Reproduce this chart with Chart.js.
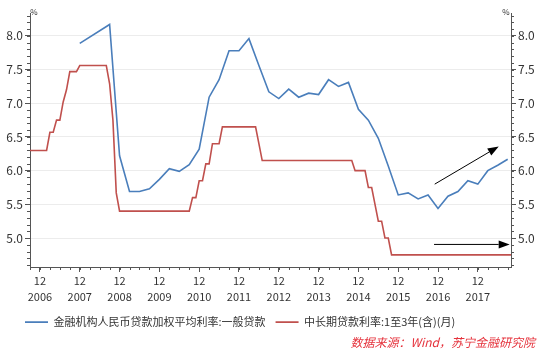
<!DOCTYPE html>
<html><head><meta charset="utf-8">
<script src="https://cdn.jsdelivr.net/npm/chart.js@4"></script>
<style>html,body{margin:0;padding:0;background:#fff;}#wrap{width:542px;height:353px;}</style>
</head><body><div id="wrap"><canvas id="c" width="542" height="353"></canvas></div>
<script>
// x values are months counted from December 2006 (= 0)
const seriesNames = ['金融机构人民币贷款加权平均利率:一般贷款', '中长期贷款利率:1至3年(含)(月)'];
const blueMonths = [12,21,24,27,30,33,36,39,42,45,48,51,54,57,60,63,66,69,72,75,78,81,84,87,90,93,96,99,102,105,108,111,114,117,120,123,126,129,132,135,138,141];
const blueValues = [7.89,8.17,6.22,5.69,5.69,5.73,5.87,6.03,5.99,6.09,6.32,7.09,7.35,7.78,7.78,7.96,7.56,7.17,7.07,7.21,7.09,7.15,7.13,7.35,7.25,7.31,6.91,6.75,6.48,6.07,5.64,5.67,5.58,5.64,5.44,5.62,5.69,5.85,5.80,6.00,6.08,6.17];
const redStartMonth = -3; // September 2006, one value per month
const redValues = [
  6.30,6.30,6.30,6.30,
  6.30,6.30,6.57,6.57,6.75,6.75,7.02,7.20,7.47,7.47,7.47,7.56,
  7.56,7.56,7.56,7.56,7.56,7.56,7.56,7.56,7.29,6.75,5.67,5.40,
  5.40,5.40,5.40,5.40,5.40,5.40,5.40,5.40,5.40,5.40,5.40,5.40,
  5.40,5.40,5.40,5.40,5.40,5.40,5.40,5.40,5.40,5.60,5.60,5.85,
  5.85,6.10,6.10,6.40,6.40,6.40,6.65,6.65,6.65,6.65,6.65,6.65,
  6.65,6.65,6.65,6.65,6.65,6.40,6.15,6.15,6.15,6.15,6.15,6.15,
  6.15,6.15,6.15,6.15,6.15,6.15,6.15,6.15,6.15,6.15,6.15,6.15,
  6.15,6.15,6.15,6.15,6.15,6.15,6.15,6.15,6.15,6.15,6.00,6.00,
  6.00,6.00,5.75,5.75,5.50,5.25,5.25,5.00,5.00,4.75,4.75,4.75,
  4.75,4.75,4.75,4.75,4.75,4.75,4.75,4.75,4.75,4.75,4.75,4.75,
  4.75,4.75,4.75,4.75,4.75,4.75,4.75,4.75,4.75,4.75,4.75,4.75,
  4.75,4.75,4.75,4.75,4.75,4.75,4.75,4.75,4.75,4.75
];
const yearLabels = ['2006','2007','2008','2009','2010','2011','2012','2013','2014','2015','2016','2017'];
const monthLabel = '12';
const yTickValues = [5.0,5.5,6.0,6.5,7.0,7.5,8.0];
const unitLabel = '%';
const arrowFrom = [[119,5.80],[118.8,4.905]];
const arrowTo = [[138.3,6.36],[141.6,4.905]];
const sourceText = '数据来源：Wind，苏宁金融研究院';

const FONT = '"Noto Sans CJK SC", "Noto Sans", sans-serif';
const BLUE = '#4a7ebb';
const RED = '#c0504d';
const AXIS = '#555555';

const extras = {
  id: 'extras',
  afterLayout(chart) {
    if (chart.legend) { chart.legend.left += 15; }
    chart.boxes.forEach(b => {
      if (b !== chart.legend && b.options && b.options.text === sourceText) { b.right -= 7; }
    });
  },
  afterDatasetsDraw(chart) {
    const {ctx, scales: {x, y}} = chart;
    ctx.save();
    ctx.strokeStyle = '#000'; ctx.fillStyle = '#000'; ctx.lineWidth = 1;
    for (let i = 0; i < arrowFrom.length; i++) {
      const x1 = x.getPixelForValue(arrowFrom[i][0]), y1 = y.getPixelForValue(arrowFrom[i][1]);
      const x2 = x.getPixelForValue(arrowTo[i][0]), y2 = y.getPixelForValue(arrowTo[i][1]);
      const ang = Math.atan2(y2 - y1, x2 - x1), L = 11, W = 4;
      const bx = x2 - L * Math.cos(ang), by = y2 - L * Math.sin(ang);
      ctx.beginPath(); ctx.moveTo(x1, y1); ctx.lineTo(bx, by); ctx.stroke();
      ctx.beginPath(); ctx.moveTo(x2, y2);
      ctx.lineTo(bx + W * Math.sin(ang), by - W * Math.cos(ang));
      ctx.lineTo(bx - W * Math.sin(ang), by + W * Math.cos(ang));
      ctx.closePath(); ctx.fill();
    }
    ctx.restore();
  },
  afterDraw(chart) {
    const {ctx, chartArea: a, scales: {x, y}} = chart;
    ctx.save();
    ctx.strokeStyle = AXIS; ctx.lineWidth = 1;
    ctx.beginPath();
    for (let k = 46; k <= 83; k++) {
      const py = Math.round(y.getPixelForValue(k / 10)) + 0.5;
      ctx.moveTo(a.left - 3, py); ctx.lineTo(a.left, py);
      ctx.moveTo(a.right, py); ctx.lineTo(a.right + 3, py);
    }
    for (let m = -3; m <= 141; m += 3) {
      const px = Math.round(x.getPixelForValue(m)) + 0.5;
      ctx.moveTo(px, a.bottom); ctx.lineTo(px, a.bottom + 3);
    }
    ctx.stroke();
    ctx.fillStyle = '#333';
    ctx.font = '8px ' + FONT;
    ctx.textAlign = 'center'; ctx.textBaseline = 'middle';
    ctx.fillText(unitLabel, a.left + 4, a.top - 1);
    ctx.fillText(unitLabel, a.right - 5, a.top - 1);
    ctx.restore();
  }
};

new Chart(document.getElementById('c'), {
  type: 'line',
  data: {
    datasets: [
      { label: seriesNames[0], data: blueMonths.map((m, i) => ({x: m, y: blueValues[i]})),
        borderColor: BLUE, backgroundColor: BLUE, borderWidth: 1.6, pointRadius: 0, tension: 0 },
      { label: seriesNames[1], data: redValues.map((v, i) => ({x: redStartMonth + i, y: v})),
        borderColor: RED, backgroundColor: RED, borderWidth: 1.6, pointRadius: 0, tension: 0 }
    ]
  },
  options: {
    responsive: false, animation: false, devicePixelRatio: 1,
    layout: { padding: { left: 0, right: 0, top: 13, bottom: 0 } },
    plugins: {
      legend: { position: 'bottom', align: 'start',
        labels: { boxWidth: 23, boxHeight: 0, padding: 10, color: '#333', font: { family: FONT, size: 11 } } },
      subtitle: { display: true, text: sourceText, position: 'bottom', align: 'end', color: '#e5323c',
        font: { family: FONT, size: 12, style: 'italic' }, padding: { top: -2, bottom: 3 } },
      tooltip: { enabled: false }
    },
    scales: {
      x: { type: 'linear', min: -3, max: 142, position: 'bottom',
        afterBuildTicks: s => { s.ticks = yearLabels.map((yl, i) => ({ value: i * 12 })); },
        ticks: { autoSkip: false, maxRotation: 0, padding: 1, color: '#333',
          font: { family: FONT, size: 11, lineHeight: 1.45 },
          callback: (v, i) => [monthLabel, yearLabels[i]] },
        grid: { drawOnChartArea: false, tickLength: 5, tickColor: AXIS },
        border: { color: AXIS },
        afterFit: s => { s.height = 39.6; } },
      y: { position: 'left', min: 4.57, max: 8.34,
        afterBuildTicks: s => { s.ticks = yTickValues.map(v => ({ value: v })); },
        ticks: { padding: 2, color: '#333', font: { family: FONT, size: 12 }, callback: v => v.toFixed(1) },
        grid: { color: '#ececec', tickColor: AXIS, tickLength: 5 },
        border: { color: AXIS },
        afterFit: s => { s.width = 30; } },
      y2: { position: 'right', min: 4.57, max: 8.34,
        afterBuildTicks: s => { s.ticks = yTickValues.map(v => ({ value: v })); },
        ticks: { padding: 2, color: '#333', font: { family: FONT, size: 12 }, callback: v => v.toFixed(1) },
        grid: { drawOnChartArea: false, tickColor: AXIS, tickLength: 5 },
        border: { color: AXIS },
        afterFit: s => { s.width = 31; } }
    }
  },
  plugins: [extras]
});
</script>
</body></html>
